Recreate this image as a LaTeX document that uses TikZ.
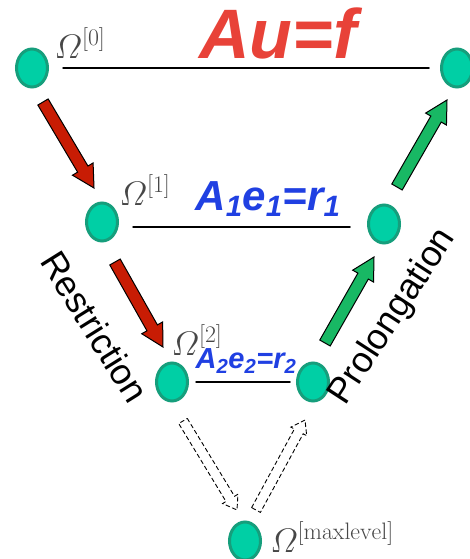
\documentclass[tikz,border=0pt]{standalone}
\usepackage{fix-cm}
\usepackage{amsmath}
\usepackage{fontspec}
\newfontfamily\arialfont{Liberation Sans}
\usetikzlibrary{calc,positioning,shapes.geometric}

\definecolor{gridnode}{RGB}{0,207,165}
\definecolor{gridedge}{RGB}{22,158,124}
\definecolor{eqred}{RGB}{232,66,56}
\definecolor{eqblue}{RGB}{32,64,226}
\definecolor{restrictred}{RGB}{200,28,4}
\definecolor{prolonggreen}{RGB}{24,184,100}

\tikzset{
  gridpt/.style={ellipse, fill=gridnode, draw=gridedge, line width=3pt,
    minimum width=31pt, minimum height=38pt, inner sep=0pt},
  omega/.style={text=black!72, font=\fontsize{34}{40}\selectfont, inner sep=0pt},
  eqlabel/.style={inner sep=0pt},
  vlabel/.style={font=\arialfont\fontsize{36}{42}\selectfont, inner sep=0pt},
  restrict/.style={draw=black, line width=1pt, fill=restrictred, line join=miter},
  prolong/.style={draw=black, line width=1pt, fill=prolonggreen, line join=miter},
  coarse/.style={draw=black, line width=0.9pt, dash pattern=on 4pt off 3pt, line join=miter},
}

\begin{document}
\begin{tikzpicture}[x=1pt, y=-1pt, line cap=round]
  \useasboundingbox (0,0) rectangle (469,559);
  % grid points on each level
  \node[gridpt] (n0) at (32,68) {};
  \node[gridpt] (n0r) at (457,68) {};
  \node[gridpt] (n1) at (102,222) {};
  \node[gridpt] (n1r) at (384,224) {};
  \node[gridpt] (n2) at (172,382) {};
  \node[gridpt] (n2r) at (313,382) {};
  \node[gridpt] (n3) at (245,541) {};

  % level lines
  \draw[line width=1.5pt, shorten <=14pt, shorten >=11pt] (n0) -- (n0r);
  \draw[line width=1.5pt, shorten <=14pt, shorten >=17pt] ([yshift=-5pt]n1.east) -- ([yshift=-3pt]n1r.west);
  \draw[line width=1.5pt, shorten <=7pt, shorten >=6pt] (n2.east) -- (n2r.west);

  % level names and equations
  \node[omega] (om0) at (80,43) {$\varOmega^{[0]}$};
  \node[omega] (om1) at (145,190) {$\varOmega^{[1]}$};
  \node[omega] (om2) at (197,340) {$\varOmega^{[2]}$};
  \node[omega] (om3) at (332,537) {$\varOmega^{[\mathrm{maxlevel}]}$};
  \node[eqlabel, text=eqred, font=\arialfont\bfseries\itshape\fontsize{70}{80}\selectfont] (eq0) at (278,33) {Au=f};
  \node[eqlabel, text=eqblue, font=\arialfont\bfseries\itshape\fontsize{42}{48}\selectfont] (eq1) at (268,199)
    {A\textsubscript{1}e\textsubscript{1}=r\textsubscript{1}};
  \node[eqlabel, text=eqblue, font=\arialfont\bfseries\itshape\fontsize{29}{34}\selectfont] (eq2) at (246,361)
    {A\textsubscript{2}e\textsubscript{2}=r\textsubscript{2}};

  \node[vlabel, rotate=-58] (restr) at (95,327) {Restriction};
  \node[vlabel, rotate=57] (prolong) at (393,317) {Prolongation};

  % arrow ends
  \coordinate (a0) at (43,102);  \coordinate (a1) at (94,188);
  \coordinate (a2) at (115,262); \coordinate (a3) at (163,347);
  \coordinate (g0) at (325,343); \coordinate (g1) at (374,257);
  \coordinate (g2) at (397,187); \coordinate (g3) at (447,100);
  \coordinate (d0) at (183,421); \coordinate (d1) at (237,510);
  \coordinate (d2) at (256,510); \coordinate (d3) at (305,420);

  % block arrows
  \foreach \t/\h/\s/\w/\hw/\hl in {a0/a1/restrict/6pt/12pt/22pt, a2/a3/restrict/6pt/12pt/22pt,
      g0/g1/prolong/6pt/12pt/22pt, g2/g3/prolong/6pt/12pt/22pt,
      d0/d1/coarse/5pt/9pt/13pt, d2/d3/coarse/5pt/9pt/13pt}{
    \coordinate (hb) at ($(\h)!\hl!(\t)$);
    \draw[\s] ($(\t)!\w!90:(\h)$) -- ($(hb)!\w!90:(\h)$) -- ($(hb)!\hw!90:(\h)$) -- (\h)
      -- ($(hb)!\hw!-90:(\h)$) -- ($(hb)!\w!-90:(\h)$) -- ($(\t)!\w!-90:(\h)$) -- cycle;
  }
\end{tikzpicture}
\end{document}
